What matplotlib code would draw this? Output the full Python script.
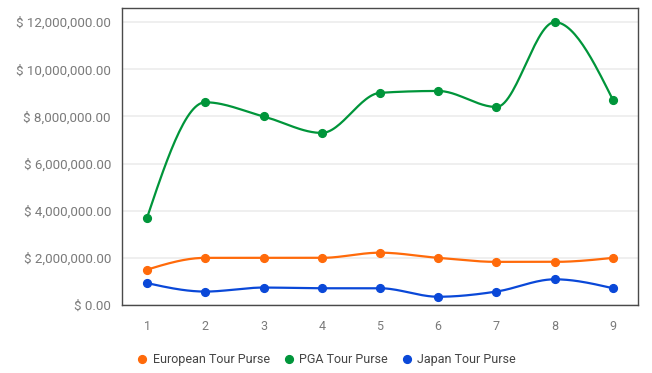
import numpy as np
import matplotlib
matplotlib.use("Agg")
import matplotlib.pyplot as plt
from matplotlib.ticker import FuncFormatter
from matplotlib.lines import Line2D

x_vals = [1, 2, 3, 4, 5, 6, 7, 8, 9]
european = [1.5e6, 2.0e6, 2.0e6, 2.0e6, 2.22e6, 2.0e6, 1.83e6, 1.83e6, 2.0e6]
pga = [3.7e6, 8.6e6, 8.0e6, 7.3e6, 9.0e6, 9.08e6, 8.4e6, 12.0e6, 8.7e6]
japan = [0.93e6, 0.57e6, 0.74e6, 0.71e6, 0.71e6, 0.35e6, 0.57e6, 1.09e6, 0.71e6]
series_names = ["European Tour Purse", "PGA Tour Purse", "Japan Tour Purse"]
colors = ["#ff6a0a", "#00953a", "#0a48d8"]
y_ticks = [0, 2e6, 4e6, 6e6, 8e6, 10e6, 12e6]


def monotone_curve(xs, ys, n=30):
    xs = np.asarray(xs, float)
    ys = np.asarray(ys, float)
    m = len(xs)
    h = np.diff(xs)
    s = np.diff(ys) / h
    t = np.zeros(m)
    for i in range(1, m - 1):
        p = (s[i - 1] * h[i] + s[i] * h[i - 1]) / (h[i - 1] + h[i])
        t[i] = (np.sign(s[i - 1]) + np.sign(s[i])) * min(abs(s[i - 1]), abs(s[i]), 0.5 * abs(p))
    t[0] = (3 * s[0] - t[1]) / 2
    t[-1] = (3 * s[-1] - t[-2]) / 2
    px, py = [], []
    for i in range(m - 1):
        u = np.linspace(0, 1, n)
        h00 = 2 * u**3 - 3 * u**2 + 1
        h10 = u**3 - 2 * u**2 + u
        h01 = -2 * u**3 + 3 * u**2
        h11 = u**3 - u**2
        px.extend(xs[i] + u * h[i])
        py.extend(h00 * ys[i] + h10 * h[i] * t[i] + h01 * ys[i + 1] + h11 * h[i] * t[i + 1])
    return np.array(px), np.array(py)


plt.rcParams['font.family'] = ['Roboto', 'DejaVu Sans']
fig = plt.figure(figsize=(6.52, 3.73), dpi=100)
ax = fig.add_axes([0.1871, 0.1823, 0.7914, 0.7963])

for data, c in zip([european, pga, japan], colors):
    cx, cy = monotone_curve(x_vals, data)
    ax.plot(cx, cy, color=c, lw=1.6, zorder=3, solid_capstyle='round')
    ax.plot(x_vals, data, 'o', color=c, ms=5.6, zorder=4, mec=c)

ax.set_xlim(0.57, 9.43)
ax.set_ylim(0, 12.6e6)
ax.set_xticks(x_vals)
ax.set_yticks(y_ticks)
ax.yaxis.set_major_formatter(FuncFormatter(lambda v, p: "$ {:,.2f}".format(v)))
ax.grid(axis='y', color='#ececec', lw=1.2)
ax.set_axisbelow(True)
ax.tick_params(axis='both', length=0, labelcolor='#7a7a7a')
ax.tick_params(axis='y', pad=8, labelsize=9.6)
ax.tick_params(axis='x', pad=11, labelsize=9)
for sp in ax.spines.values():
    sp.set_color('#4a4a4a')
    sp.set_linewidth(1.0)

handles = [Line2D([], [], marker='o', ls='none', color=c, ms=5.6) for c in colors]
fig.legend(handles, series_names, loc='center', bbox_to_anchor=(0.5, 0.035),
           ncol=3, frameon=False, fontsize=9, handletextpad=0.35, columnspacing=1.0,
           labelcolor='#444444', handlelength=1.0)

fig.savefig("out.png", dpi=100)
